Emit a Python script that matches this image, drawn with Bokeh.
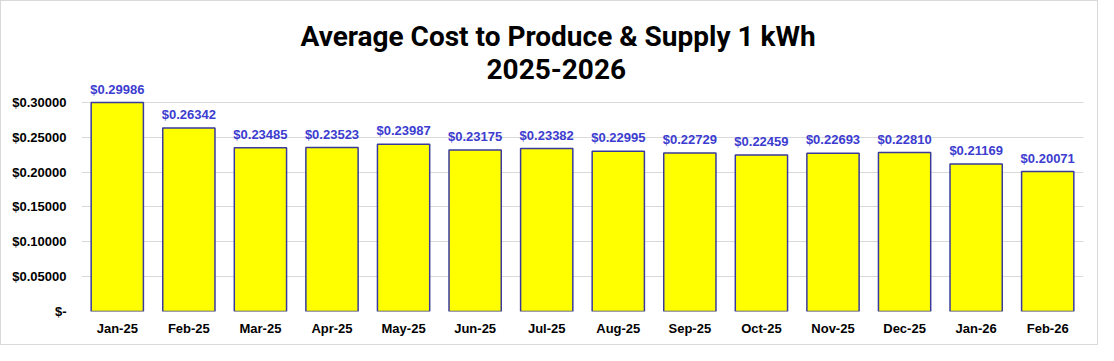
from bokeh.plotting import figure
from bokeh.models import ColumnDataSource, LabelSet, Title, CustomJSTickFormatter, Range1d, FactorRange, SingleIntervalTicker
from bokeh.core.properties import value
from bokeh.embed import file_html
from bokeh.resources import INLINE

months = ["Jan-25", "Feb-25", "Mar-25", "Apr-25", "May-25", "Jun-25", "Jul-25",
          "Aug-25", "Sep-25", "Oct-25", "Nov-25", "Dec-25", "Jan-26", "Feb-26"]
costs = [0.29986, 0.26342, 0.23485, 0.23523, 0.23987, 0.23175, 0.23382,
         0.22995, 0.22729, 0.22459, 0.22693, 0.22810, 0.21169, 0.20071]
title_line1 = "Average Cost to Produce & Supply 1 kWh"
title_line2 = "2025-2026"

labels = ["$%.5f" % c for c in costs]
src = ColumnDataSource(dict(month=months, cost=costs, label=labels))

p = figure(x_range=FactorRange(factors=months), y_range=Range1d(0, 0.330),
           width=1098, height=345, output_backend="svg", toolbar_location=None,
           min_border_left=80, min_border_right=16, min_border_bottom=35, min_border_top=80)
p.styles = {"border": "1px solid #d9d9d9", "box-sizing": "border-box"}

p.vbar(x="month", top="cost", width=0.73, source=src,
       fill_color="#FFFF00", line_color="#3a3a9c", line_width=1.5)

p.add_layout(LabelSet(x="month", y="cost", text="label", source=src, y_offset=6,
                      text_align="center", text_baseline="bottom",
                      text_font=value("Liberation Sans"), text_font_size=value("13px"),
                      text_font_style="bold", text_color="#3c3cd0"))

p.add_layout(Title(text=title_line2, align="left", text_font="Roboto",
                   text_font_size="28px", text_font_style="bold", text_color="#000000",
                   standoff=6, offset=405), "above")
p.add_layout(Title(text=title_line1, align="left", text_font="Roboto",
                   text_font_size="28px", text_font_style="bold", text_color="#000000",
                   standoff=2, offset=219), "above")

p.outline_line_color = None
p.xgrid.grid_line_color = None
p.ygrid.grid_line_color = "#d9d9d9"
p.ygrid.grid_line_width = 1

p.yaxis.ticker = SingleIntervalTicker(interval=0.05)
p.yaxis.formatter = CustomJSTickFormatter(code="return Math.abs(tick) < 1e-9 ? '$-' : '$' + tick.toFixed(5);")
for ax in (p.xaxis, p.yaxis):
    ax.axis_line_color = None
    ax.major_tick_line_color = None
    ax.minor_tick_line_color = None
    ax.major_tick_out = 0
    ax.major_tick_in = 0
    ax.minor_tick_out = 0
    ax.major_label_text_font = "Liberation Sans"
    ax.major_label_text_font_size = "13px"
    ax.major_label_text_font_style = "bold"
    ax.major_label_text_color = "#000000"
p.yaxis.major_label_standoff = 15
p.xaxis.major_label_standoff = 9

open("out.html", "w").write(file_html(p, INLINE))
